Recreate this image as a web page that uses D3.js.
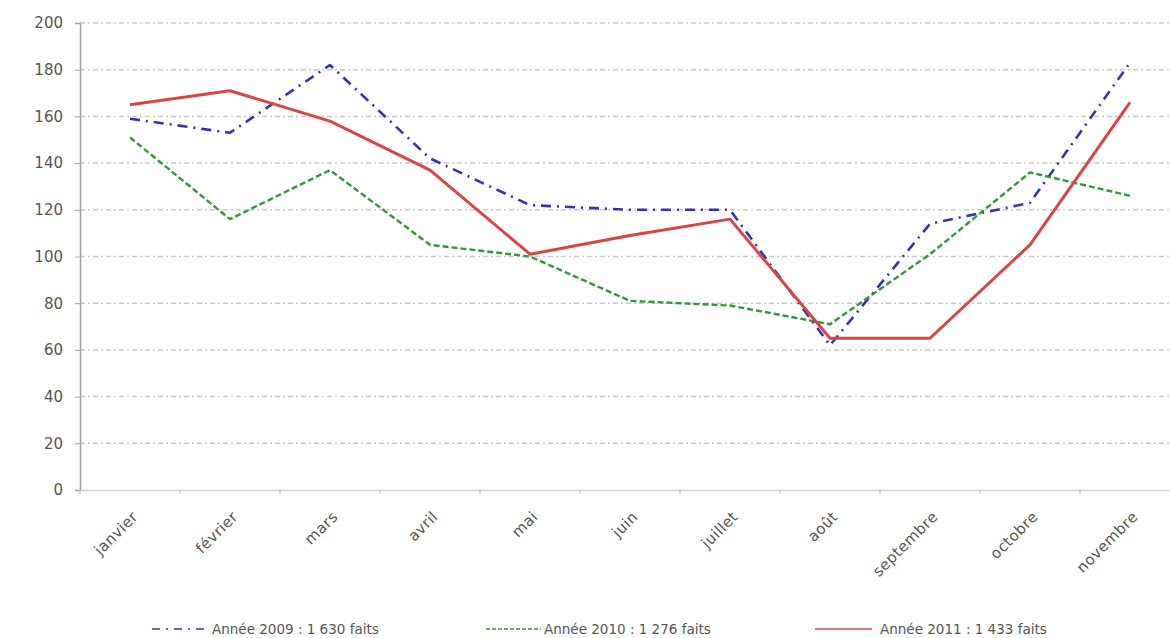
<!DOCTYPE html>
<html><head><meta charset="utf-8">
<script src="https://cdn.jsdelivr.net/npm/d3@7/dist/d3.min.js"></script>
<style>body{margin:0;background:#fff}svg{display:block}</style>
</head><body><svg id="c" width="1170" height="638"></svg>
<script>
const months = ["janvier","février","mars","avril","mai","juin","juillet","août","septembre","octobre","novembre"];
const y2009 = [159,153,182,142,122,120,120,62,114,123,183];
const y2010 = [151,116,137,105,100,81,79,71,101,136,126];
const y2011 = [165,171,158,137,101,109,116,65,65,105,166];
const yTicks = [0,20,40,60,80,100,120,140,160,180,200];
const legendLabels = ["Année 2009 : 1 630 faits","Année 2010 : 1 276 faits","Année 2011 : 1 433 faits"];

const svg = d3.select("#c");
const x = d3.scaleBand().domain(months).range([80,1180]);
const y = d3.scaleLinear().domain([0,200]).range([490,23]);
const font = "'DejaVu Sans', Verdana, sans-serif";

// gridlines
svg.append("g").selectAll("line").data(yTicks.filter(d=>d>0)).join("line")
  .attr("x1",80).attr("x2",1170).attr("y1",d=>y(d)).attr("y2",d=>y(d))
  .attr("stroke","#c8c8c8").attr("stroke-width",1.5).attr("stroke-dasharray","5,3,2,3");

// y axis
const ya = svg.append("g").attr("transform","translate(80,0)")
  .call(d3.axisLeft(y).tickValues(yTicks).tickSize(5).tickPadding(12));
ya.select(".domain").attr("stroke","#a0a0a0").attr("stroke-width",1.5);
ya.selectAll(".tick line").attr("stroke","#a0a0a0");
ya.selectAll("text").attr("fill","#555").style("font-family",font).style("font-size","15px");

// x axis
const xa = svg.append("g").attr("transform","translate(0,490)")
  .call(d3.axisBottom(x).tickSize(0).tickPadding(0));
xa.select(".domain").attr("stroke","#d0d0d0").attr("stroke-width",1.5);
xa.selectAll(".tick text")
  .attr("text-anchor","end")
  .attr("transform","translate(5,24) rotate(-45)")
  .attr("dy","0.35em")
  .attr("fill","#555").style("font-family",font).style("font-size","15px")
  .style("letter-spacing","0.4px");
// boundary ticks
svg.append("g").selectAll("line").data(months).join("line")
  .attr("x1",d=>x(d)).attr("x2",d=>x(d)).attr("y1",490).attr("y2",494)
  .attr("stroke","#bbb");

const series = [
  {vals:y2009,color:"#3434b0",w:2.6,dash:"10,6,2,6",ldash:"8,6,2,6"},
  {vals:y2010,color:"#2f9a35",w:2.4,dash:"6,3",ldash:"4,2"},
  {vals:y2011,color:"#d94545",w:3,dash:null,ldash:null}
];
const line = d3.line().x((d,i)=>x(months[i])+x.bandwidth()/2).y(d=>y(d));
series.forEach(s=>{
  svg.append("path").datum(s.vals).attr("d",line)
    .attr("fill","none").attr("stroke",s.color).attr("stroke-width",s.w)
    .attr("stroke-dasharray",s.dash).attr("stroke-linejoin","round");
});

// legend
const legX = [152,486,815];
const legW = [52,55,57];
series.forEach((s,i)=>{
  svg.append("line").attr("x1",legX[i]).attr("x2",legX[i]+legW[i]).attr("y1",629).attr("y2",629)
    .attr("stroke",s.color).attr("stroke-width",1.5).attr("stroke-dasharray",s.ldash);
  svg.append("text").attr("x",legX[i]+legW[i]+(i===1?3:8)).attr("y",629).attr("dy","0.35em")
    .attr("fill","#555").style("font-family",font).style("font-size","13.5px")
    .text(legendLabels[i]);
});
</script></body></html>
